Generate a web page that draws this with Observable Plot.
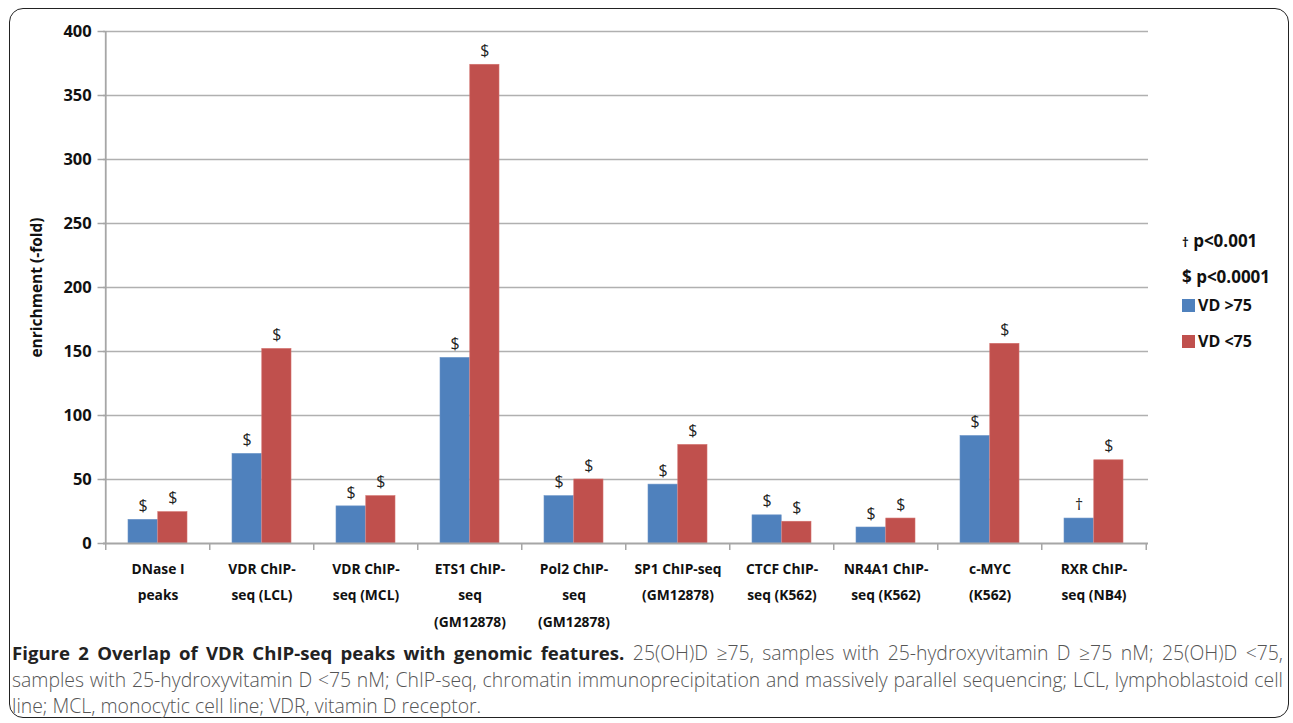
<!DOCTYPE html>
<html>
<head>
<meta charset="utf-8">
<script src="https://cdn.jsdelivr.net/npm/d3@7"></script>
<script src="https://cdn.jsdelivr.net/npm/@observablehq/plot@0.6"></script>
<style>
  html, body { margin: 0; padding: 0; background: #fff; }
  body { width: 1293px; height: 723px; position: relative; overflow: hidden; font-family: "Open Sans", sans-serif; }
  #frame { position: absolute; left: 9px; top: 8px; width: 1280px; height: 710px; border: 1.5px solid #222; border-radius: 14px; box-sizing: border-box; }
  #chart { position: absolute; left: 0; top: 0; }
  #legend { position: absolute; left: 0; top: 0; font-family: "Open Sans", sans-serif; font-weight: bold; font-size: 16px; color: #111; }
  .lg { position: absolute; white-space: nowrap; line-height: 18px; }
  .sw { display: inline-block; width: 13px; height: 13px; vertical-align: -1px; margin-right: 3px; }
  #caption { position: absolute; left: 12px; top: 640px; width: 1271px; font-family: "Open Sans", sans-serif; font-size: 19.4px; line-height: 26.5px; color: #555; font-weight: 300; }
  #caption b { color: #222; font-weight: 700; font-size: 18.6px; }
  .cl { white-space: nowrap; }
  .cj { text-align: justify; text-align-last: justify; }
</style>
</head>
<body>
<div id="frame"></div>
<div id="chart"></div>
<div id="legend"></div>
<div id="caption">
  <div class="cl cj"><b>Figure 2 Overlap of VDR ChIP-seq peaks with genomic features.</b> 25(OH)D ≥75, samples with 25-hydroxyvitamin D ≥75 nM; 25(OH)D &lt;75,</div>
  <div class="cl cj">samples with 25-hydroxyvitamin D &lt;75 nM; ChIP-seq, chromatin immunoprecipitation and massively parallel sequencing; LCL, lymphoblastoid cell</div>
  <div class="cl">line; MCL, monocytic cell line; VDR, vitamin D receptor.</div>
</div>
<script>
const categories = ["DNase I peaks", "VDR ChIP-seq (LCL)", "VDR ChIP-seq (MCL)", "ETS1 ChIP-seq (GM12878)", "Pol2 ChIP-seq (GM12878)", "SP1 ChIP-seq (GM12878)", "CTCF ChIP-seq (K562)", "NR4A1 ChIP-seq (K562)", "c-MYC (K562)", "RXR ChIP-seq (NB4)"];
const tickLabels = ["DNase I\npeaks", "VDR ChIP-\nseq (LCL)", "VDR ChIP-\nseq (MCL)", "ETS1 ChIP-\nseq\n(GM12878)", "Pol2 ChIP-\nseq\n(GM12878)", "SP1 ChIP-seq\n(GM12878)", "CTCF ChIP-\nseq (K562)", "NR4A1 ChIP-\nseq (K562)", "c-MYC\n(K562)", "RXR ChIP-\nseq (NB4)"];
const seriesNames = ["VD >75", "VD <75"];
const seriesColors = ["#4f81bd", "#c0504d"];
const vdHigh = [18.5, 70, 29, 145, 37, 46, 22, 12.5, 84, 19.5];
const vdLow = [24.5, 152, 37, 374, 50, 77, 17, 19.5, 156, 65];
const sigHigh = ["$", "$", "$", "$", "$", "$", "$", "$", "$", "†"];
const sigLow = ["$", "$", "$", "$", "$", "$", "$", "$", "$", "$"];
const yTicks = [0, 50, 100, 150, 200, 250, 300, 350, 400];
const sigLegend = [["†", "p<0.001"], ["$", "p<0.0001"]];

const W = 1293, H = 640, mL = 103, mR = 145, mT = 31, mB = 97;
const padInner = 0.43;
const step = (W - mL - mR) / categories.length;
const bw = step * (1 - padInner);
const tickLen = 8;

const high = categories.map((c, i) => ({cat: c, value: vdHigh[i], sig: sigHigh[i]}));
const low = categories.map((c, i) => ({cat: c, value: vdLow[i], sig: sigLow[i]}));
const first = () => categories[0];

const axisGray = "#a6a6a6";
const plot = Plot.plot({
  width: W, height: H,
  marginLeft: mL, marginRight: mR, marginTop: mT, marginBottom: mB,
  style: {fontFamily: "Open Sans, sans-serif", background: "transparent", overflow: "visible"},
  x: {domain: categories, paddingInner: padInner, paddingOuter: padInner / 2, axis: null},
  y: {domain: [0, 400], axis: null},
  marks: [
    Plot.ruleY(yTicks.slice(1), {y: d => d, stroke: "#b0b0b0", strokeWidth: 1.6}),
    Plot.tickY(yTicks, {y: d => d, x: first, dx: -step * padInner / 2 - tickLen, insetLeft: 0, insetRight: bw - tickLen, stroke: axisGray, strokeWidth: 1.5}),
    Plot.barY(high, {x: "cat", y: "value", fill: seriesColors[0], insetRight: bw / 2, stroke: "#6d95c8", strokeWidth: 0.6}),
    Plot.barY(low, {x: "cat", y: "value", fill: seriesColors[1], insetLeft: bw / 2, stroke: "#d26f6c", strokeWidth: 0.6}),
    Plot.ruleY([0], {stroke: axisGray, strokeWidth: 1.8}),
    Plot.ruleX([categories[0]], {x: d => d, dx: -step / 2, stroke: axisGray, strokeWidth: 1.8}),
    Plot.ruleX(categories, {x: d => d, dx: -step / 2, y1: 0, y2: 0, insetBottom: -7, stroke: axisGray, strokeWidth: 1.5}),
    Plot.ruleX(categories.slice(-1), {x: d => d, dx: step / 2, y1: 0, y2: 0, insetBottom: -7, stroke: axisGray, strokeWidth: 1.5}),
    Plot.text(yTicks, {x: first, y: d => d, text: d => String(d), dx: -step / 2 - 14, textAnchor: "end", fontSize: 16.5, fontWeight: "bold", fill: "#111"}),
    Plot.text(high, {x: "cat", y: "value", text: "sig", dx: -bw / 4, dy: -14, fontSize: 16, fill: "#222"}),
    Plot.text(low, {x: "cat", y: "value", text: "sig", dx: bw / 4, dy: -14, fontSize: 16, fill: "#222"}),
    Plot.text(categories, {x: d => d, text: (d, i) => tickLabels[i], frameAnchor: "bottom", lineAnchor: "top", dy: 12, lineHeight: 1.9, fontSize: 13.8, fontWeight: "bold", fill: "#111"}),
    Plot.text(["enrichment (-fold)"], {frameAnchor: "left", text: d => d, rotate: -90, textAnchor: "middle", dx: -66, fontSize: 15.5, fontWeight: "bold", fill: "#111"})
  ]
});
document.getElementById("chart").appendChild(plot);

const legend = document.getElementById("legend");
const rows = [
  {top: 232, size: 17, html: `<span style="font-size:13px">${sigLegend[0][0]}</span> ${sigLegend[0][1]}`},
  {top: 268, size: 17, html: `${sigLegend[1][0]} ${sigLegend[1][1]}`},
  {top: 296, size: 16, html: `<span class="sw" style="background:${seriesColors[0]}"></span>${seriesNames[0]}`},
  {top: 332, size: 16, html: `<span class="sw" style="background:${seriesColors[1]}"></span>${seriesNames[1]}`}
];
for (const r of rows) {
  const d = document.createElement("div");
  d.className = "lg";
  d.style.left = "1182px";
  d.style.top = r.top + "px";
  d.style.fontSize = r.size + "px";
  d.innerHTML = r.html;
  legend.appendChild(d);
}
</script>
</body>
</html>
